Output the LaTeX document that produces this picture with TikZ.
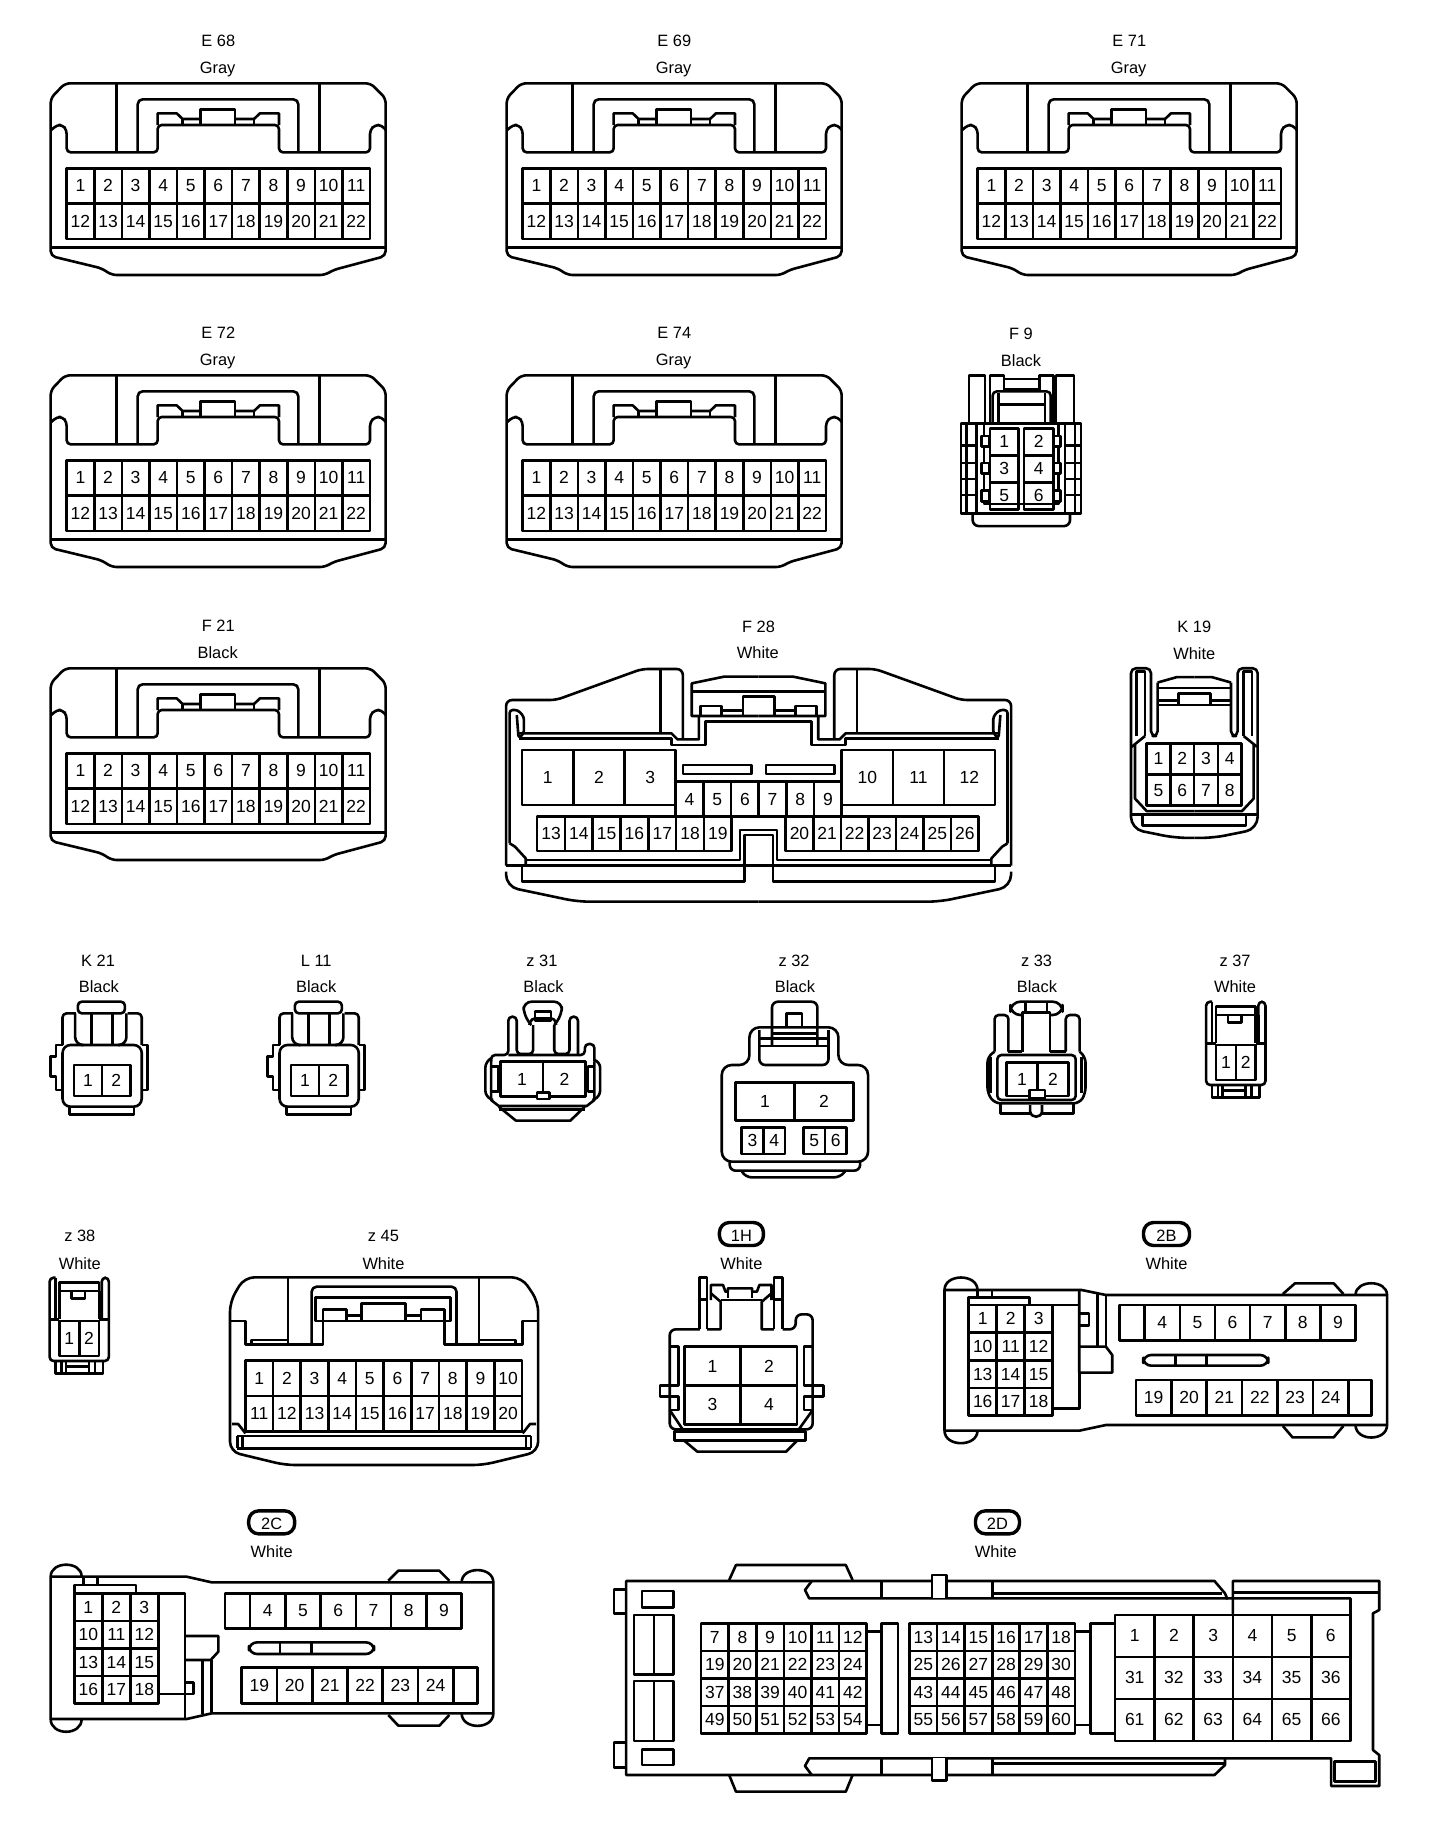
\documentclass[tikz,border=0pt]{standalone}
\usepackage{fontspec}
\setmainfont{Liberation Sans}
\newcommand\pinf{\fontsize{8.75pt}{9pt}\selectfont}
\newcommand\lblf{\fontsize{8.2pt}{9pt}\selectfont}
\newcount\nodenum
\tikzset{
  cl/.style={draw=black,line width=1.3pt,line join=round},
  pinnum/.style={inner sep=0pt,text height=.716em,text depth=0pt,anchor=center,yshift=0.6pt},
  lbl/.style={inner sep=0pt,text height=.716em,text depth=0pt,anchor=center,font=\lblf,yshift=0.5pt},
  pillst/.style={draw=black,line width=1.7pt,rounded corners=5pt,inner sep=0pt,font=\lblf,minimum height=11.5pt,text height=.716em,text depth=0pt,yshift=0.5pt},
  zm/.style n args={4}{shift={(#1,#2)},xscale=#3,yscale=#4},
  flipx/.style={cm={-1,0,0,1,(#1,0)}}
}
\newcommand\lab[3]{\global\advance\nodenum by 1 \node[lbl] (t\the\nodenum) at (#1,#2) {#3};}
\newcommand\pill[4]{\global\advance\nodenum by 1 \node[pillst,minimum width=#3] (t\the\nodenum) at (#1,#2) {#4};}
% [font] x0 y0 x1 y1 ncol nrow list
\newcommand\pins[8][\pinf]{%
  \foreach \v [count=\ii from 0] in {#8} {
    \pgfmathtruncatemacro\gc{mod(\ii,#6)}
    \pgfmathtruncatemacro\gr{round((\ii-\gc)/#6)}
    \pgfmathsetmacro\cellw{(#4-#2)/#6}
    \pgfmathsetmacro\cellh{(#5-#3)/#7}
    \pgfmathsetmacro\ax{#2+\gc*\cellw}
    \pgfmathsetmacro\ay{#3+\gr*\cellh}
    \pgfmathsetmacro\bx{\ax+\cellw}
    \pgfmathsetmacro\by{\ay+\cellh}
    \pgfmathsetmacro\cx{\ax+0.5*\cellw}
    \pgfmathsetmacro\cy{\ay+0.5*\cellh}
    \draw[cl] (\ax,\ay) rectangle (\bx,\by);
    \global\advance\nodenum by 1
    \node[pinnum,font=#1] (t\the\nodenum) at (\cx,\cy) {\v};
  }
}
\newcommand\connE[4]{%
\begin{scope}[zm={30+#1}{20+#2}{0.33333}{0.33333}]
\lab{565}{62}{#3}\lab{563}{143}{#4}
\draw[cl,rounded corners=2.5pt] (105,190)--(62,235)--(62,708)--(215,745)--(245,765)--(885,765)--(910,750)--(1067,708)--(1067,235)--(1022,190)--cycle;
\draw[cl] (62,682)--(1067,682);
\draw[cl,rounded corners=2pt] (64,330)--(80,315)--(98,315)--(110,330)--(110,397)--(383,397)--(383,315)--(747,315)--(747,397)--(1020,397)--(1020,330)--(1035,315)--(1055,315)--(1067,330);
\draw[cl,rounded corners=2pt] (260,397)--(260,190);
\draw[cl] (868,397)--(868,190);
\draw[cl,rounded corners=2.5pt] (323,397)--(323,238)--(805,238)--(805,397);
\draw[cl] (383,315)--(383,280)--(440,280)--(458,297)--(512,297);
\draw[cl] (458,297)--(458,315);
\draw[cl] (512,315)--(512,268)--(615,268)--(615,315);
\draw[cl] (615,297)--(672,297)--(690,280)--(747,280)--(747,315);
\draw[cl] (672,297)--(672,315);
\pins{110}{445}{1020}{657}{11}{2}{1,2,3,4,5,6,7,8,9,10,11,12,13,14,15,16,17,18,19,20,21,22}
\end{scope}}
\newcommand\fhalf{%
\draw[cl,rounded corners=3pt] (45,737)--(45,240)--(185,240)--(425,147)--(540,147)--(540,355);
\draw[cl] (477,147)--(477,340);
\draw[cl] (80,340)--(508,340)--(525,358)--(585,358)--(585,290);
\draw[cl] (80,355)--(508,355)--(508,375)--(603,375)--(603,305)--(752,305);
\draw[cl,rounded corners=1.5pt] (55,670)--(55,270)--(78,270)--(95,290)--(95,340)--(80,355)--(75,285);
\draw[cl] (55,670)--(70,680)--(100,715)--(100,737);
\draw[cl] (100,720)--(700,720)--(700,630)--(752,630);
\draw[cl] (90,737)--(90,785)--(712,785)--(712,645)--(752,645);
\draw[cl,rounded corners=6pt] (45,755)--(45,800)--(245,845)--(752,845);
\draw[cl] (752,170)--(655,170)--(565,190)--(565,288)--(752,288);
\draw[cl] (565,215)--(752,215);
\draw[cl] (590,288)--(590,258)--(648,258)--(648,288);
\draw[cl] (648,272)--(708,272);
\draw[cl] (708,288)--(708,230)--(752,230);
}
\newcommand\khalf{%
\draw[cl,rounded corners=2.5pt] (543,1280)--(543,975)--(603,975)--(603,1165)--(623,1165)--(623,1015);
\draw[cl] (623,1015)--(680,1000)--(733,1000);
\draw[cl] (560,1165)--(560,985)--(585,985)--(585,1165);
\draw[cl] (623,1030)--(733,1030);
\draw[cl] (623,1065)--(685,1065);
\draw[cl] (623,1078)--(685,1078);
\draw[cl] (685,1078)--(685,1045)--(733,1045);
\draw[cl] (685,1078)--(733,1078);
\draw[cl] (585,1165)--(545,1195);
\draw[cl] (555,1190)--(555,1340)--(590,1375)--(733,1375);
\draw[cl,rounded corners=6pt] (543,1280)--(543,1425)--(675,1450)--(733,1450);
\draw[cl] (545,1385)--(733,1385);
\draw[cl] (578,1385)--(578,1415)--(733,1415);
}
\newcommand\kbody{%
\draw[cl,rounded corners=2pt] (125,155) rectangle (248,190);
\draw[cl] (160,190)--(160,285)--(105,285);
\draw[cl] (215,190)--(215,285)--(270,285);
\draw[cl,rounded corners=2pt] (120,190)--(85,190)--(85,285);
\draw[cl,rounded corners=4pt] (118,190)--(118,285)--(135,285);
\draw[cl,rounded corners=2pt] (255,190)--(292,190)--(292,285);
\draw[cl,rounded corners=4pt] (252,190)--(252,285)--(235,285);
\draw[cl,rounded corners=4pt] (85,285) rectangle (292,470);
\draw[cl] (85,285)--(68,285)--(68,320)--(53,320)--(53,380)--(68,380)--(68,420)--(85,420);
\draw[cl] (292,285)--(307,285)--(307,420)--(292,420);
\draw[cl] (103,470)--(103,493)--(272,493)--(272,470);
\pins{115}{345}{262}{438}{2}{1}{1,2}
}
\newcommand\zslim{%
\draw[cl,rounded corners=2pt] (1295,155)--(1280,155)--(1280,405)--(1430,405)--(1430,155)--(1412,155)--(1412,280);
\draw[cl] (1295,155)--(1295,280);
\draw[cl] (1282,280)--(1305,280);
\draw[cl] (1405,280)--(1430,280);
\draw[cl] (1305,280)--(1305,170)--(1405,170)--(1405,280);
\draw[cl] (1305,195)--(1405,195);
\draw[cl] (1335,198)--(1335,217)--(1370,217)--(1370,198);
\draw[cl,line width=2pt] (1410,195)--(1410,280);
\pins{1305}{285}{1405}{390}{2}{1}{1,2}
\draw[cl] (1295,405)--(1295,442)--(1415,442)--(1415,405);
\draw[cl] (1310,405)--(1310,442);
\draw[cl] (1322,405)--(1322,442);
\draw[cl] (1380,405)--(1380,442);
\draw[cl] (1395,405)--(1395,442);
\draw[cl] (1322,422)--(1380,422);
}
\begin{document}
\begin{tikzpicture}[x=0.5pt,y=-0.5pt]
\useasboundingbox (0,0) rectangle (1456,1826);
\fill[white] (0,0) rectangle (1456,1826);
\connE{0}{0}{E 68}{Gray}
\connE{456}{0}{E 69}{Gray}
\connE{911}{0}{E 71}{Gray}
\connE{0}{292}{E 72}{Gray}
\connE{456}{292}{E 74}{Gray}
\connE{0}{585}{F 21}{Black}
% F9 and K19
\begin{scope}[zm={950}{320}{0.33333}{0.35714}]
\lab{213}{37}{F 9}\lab{213}{113}{Black}
\draw[cl] (57,290)--(57,155)--(105,155)--(105,290);
\draw[cl] (120,290)--(120,155)--(162,155)--(162,195);
\draw[cl] (162,165)--(268,165);
\draw[cl] (162,193)--(268,193);
\draw[cl] (268,195)--(268,155)--(310,155)--(310,290);
\draw[cl] (318,290)--(318,155)--(372,155)--(372,290);
\draw[cl,rounded corners=2pt] (128,290)--(128,200)--(302,200)--(302,290);
\draw[cl] (145,205)--(145,290);
\draw[cl] (285,205)--(285,290);
\draw[cl] (145,237)--(285,237);
\draw[cl] (33,290) rectangle (393,542);
\draw[cl] (50,290)--(50,542);
\draw[cl] (80,290)--(80,542);
\draw[cl] (102,290)--(102,515)--(325,515)--(325,290);
\draw[cl] (345,290)--(345,542);
\draw[cl] (375,290)--(375,542);
\foreach \yy in {352,400,445,490} {\draw[cl] (33,\yy)--(80,\yy); \draw[cl] (345,\yy)--(393,\yy);}
\foreach \yy in {325,400,478} {
  \draw[cl,fill=white] (95,\yy) rectangle (118,\yy+30);
  \draw[cl,fill=white] (312,\yy) rectangle (332,\yy+30);
}
\pins{120}{303}{205}{530}{1}{3}{1,3,5}
\pins{222}{303}{310}{530}{1}{3}{2,4,6}
\draw[cl,rounded corners=3pt] (68,540)--(68,577)--(360,577)--(360,540);
% K19
\lab{733}{857}{K 19}\lab{733}{933}{White}
\khalf
\begin{scope}[flipx=1466]\khalf\end{scope}
\pins{590}{1185}{875}{1360}{4}{2}{1,2,3,4,5,6,7,8}
\end{scope}
% F28
\begin{scope}[zm={490}{620}{0.35714}{0.33333}]
\lab{752}{18}{F 28}\lab{750}{98}{White}
\fhalf
\begin{scope}[flipx=1504]\fhalf\end{scope}
\draw[cl] (45,737)--(1458,737);
\pins{90}{390}{520}{555}{3}{1}{1,2,3}
\pins{985}{390}{1414}{555}{3}{1}{10,11,12}
\draw[cl] (520,390)--(520,590);
\draw[cl] (985,390)--(985,590);
\pins{520}{485}{985}{590}{6}{1}{4,5,6,7,8,9}
\pins{132}{590}{677}{693}{7}{1}{13,14,15,16,17,18,19}
\pins{828}{590}{1368}{693}{7}{1}{20,21,22,23,24,25,26}
\draw[cl] (540,435) rectangle (732,462);
\draw[cl] (773,435) rectangle (965,462);
\end{scope}
% K21, L11, z31
\begin{scope}[zm={30}{950}{0.38265}{0.33333}]
\lab{178}{30}{K 21}\lab{180}{110}{Black}
\kbody
\lab{748}{30}{L 11}\lab{748}{110}{Black}
\lab{1338}{30}{z 31}\lab{1342}{110}{Black}
\draw[cl,rounded corners=2pt] (1205,335)--(1205,315)--(1250,315)--(1250,200)--(1272,200)--(1272,312)--(1315,312)--(1315,225);
\draw[cl,rounded corners=2pt] (1370,225)--(1370,312)--(1410,312)--(1410,200)--(1432,200)--(1432,315);
\draw[cl,rounded corners=2pt] (1250,315)--(1450,315)--(1450,282)--(1475,282)--(1475,335);
\draw[cl,rounded corners=4pt] (1310,225)--(1290,195)--(1290,155)--(1390,155)--(1390,195)--(1370,225);
\draw[cl,rounded corners=2pt] (1305,225)--(1310,205)--(1372,205)--(1375,225);
\draw[cl] (1320,185) rectangle (1362,212);
\draw[cl,rounded corners=3pt] (1205,325)--(1190,335)--(1190,440)--(1210,450);
\draw[cl,rounded corners=3pt] (1475,330)--(1490,335)--(1490,440)--(1470,450);
\draw[cl] (1205,325)--(1205,450)--(1225,468)--(1455,468)--(1475,450)--(1475,335);
\draw[cl] (1208,350)--(1225,350)--(1225,425)--(1208,425);
\draw[cl] (1475,350)--(1458,350)--(1458,425)--(1475,425);
\pins{1230}{335}{1452}{440}{2}{1}{1,2}
\draw[cl,fill=white] (1325,427) rectangle (1358,447);
\draw[cl] (1225,478)--(1450,478);
\draw[cl] (1225,470)--(1270,512)--(1412,512)--(1450,470);
\end{scope}
\begin{scope}[zm={247}{950}{0.38265}{0.33333}]\kbody\end{scope}
% z32 z33 z37
\begin{scope}[zm={700}{950}{0.39541}{0.33333}]
\lab{238}{30}{z 32}\lab{240}{110}{Black}
\draw[cl,rounded corners=5pt] (125,345)--(125,232)--(350,232)--(350,345)--(425,345)--(425,635)--(55,635)--(55,345)--cycle;
\draw[cl,rounded corners=3pt] (182,290)--(182,155)--(297,155)--(297,290);
\draw[cl] (218,230)--(218,190)--(258,190)--(258,230);
\draw[cl] (182,250)--(297,250);
\draw[cl] (150,265)--(325,265);
\draw[cl] (150,288)--(325,288);
\draw[cl,rounded corners=3pt] (150,240)--(150,345)--(325,345)--(325,240);
\pins{90}{398}{388}{512}{2}{1}{1,2}
\pins{105}{533}{215}{612}{2}{1}{3,4}
\pins{262}{533}{370}{612}{2}{1}{5,6}
\draw[cl,rounded corners=3pt] (75,635)--(75,662)--(405,662)--(405,635);
\draw[cl,rounded corners=3pt] (105,662)--(115,682)--(355,682)--(368,662);
\lab{851}{30}{z 33}\lab{852}{110}{Black}
\draw[cl,rounded corners=5pt] (785,155) rectangle (917,195);
\draw[cl] (823,155)--(823,185);
\draw[cl] (878,155)--(878,185);
\draw[cl,rounded corners=2pt] (780,305)--(780,195)--(745,195)--(745,305);
\draw[cl,rounded corners=2pt] (925,305)--(925,195)--(960,195)--(960,305);
\draw[cl,fill=white] (815,305)--(815,187)--(885,187)--(885,305);
\draw[cl] (780,305)--(815,305);
\draw[cl] (885,305)--(925,305);
\draw[cl,rounded corners=3pt] (745,305)--(727,320)--(727,430)--(745,460)--(960,460)--(975,430)--(975,320)--(960,305);
\draw[cl] (735,320)--(735,430);
\draw[cl] (965,320)--(965,430);
\draw[cl,rounded corners=2pt] (752,315) rectangle (950,450);
\pins{775}{338}{932}{438}{2}{1}{1,2}
\draw[cl,fill=white] (833,420) rectangle (872,445);
\draw[cl] (760,460)--(760,490)--(835,490);
\draw[cl] (865,490)--(945,490)--(945,460);
\draw[cl] (835,465)--(835,485) .. controls (838,505) and (862,505) .. (865,485)--(865,465);
\lab{1353}{30}{z 37}\lab{1353}{110}{White}
\zslim
\end{scope}
% z38
\begin{scope}[zm={-456}{1226}{0.395}{0.33333}]
\zslim
\end{scope}
\begin{scope}[zm={30}{1220}{0.40816}{0.33333}]
\lab{122}{47}{z 38}\lab{122}{130}{White}
% z45
\lab{866}{47}{z 45}\lab{866}{130}{White}
\draw[cl,rounded corners=5pt] (525,172)--(490,245)--(490,695)--(625,735)--(1110,735)--(1245,695)--(1245,245)--(1205,172)--cycle;
\draw[cl] (490,303)--(528,303)--(528,373)--(718,373)--(718,300);
\draw[cl] (1015,300)--(1015,373)--(1207,373)--(1207,303)--(1245,303);
\draw[cl] (632,172)--(632,373);
\draw[cl] (1100,172)--(1100,373);
\draw[cl] (542,373)--(542,360)--(632,360);
\draw[cl] (1100,360)--(1190,360)--(1190,373);
\draw[cl,rounded corners=2.5pt] (690,373)--(690,200)--(1045,200)--(1045,373);
\draw[cl] (700,232)--(1030,232)--(1030,303)--(700,303)--cycle;
\draw[cl] (718,303)--(718,268)--(775,268)--(775,303);
\draw[cl] (775,287)--(812,287);
\draw[cl] (812,303)--(812,250)--(920,250)--(920,303);
\draw[cl] (920,287)--(958,287);
\draw[cl] (958,303)--(958,268)--(1015,268)--(1015,303);
\pins{528}{422}{1205}{635}{10}{2}{1,2,3,4,5,6,7,8,9,10,11,12,13,14,15,16,17,18,19,20}
\draw[cl] (495,612)--(510,612)--(528,640);
\draw[cl] (1240,612)--(1225,612)--(1207,640);
\draw[cl] (508,648)--(1227,648);
\draw[cl] (508,685)--(1227,685);
\draw[cl] (508,648)--(508,685);
\draw[cl] (520,648)--(520,685);
\draw[cl] (1215,648)--(1215,685);
\draw[cl] (1227,648)--(1227,685);
\end{scope}
% 1H 2B
\begin{scope}[zm={660}{1220}{0.48469}{0.33333}]
\pill{168}{45}{22pt}{1H}\lab{168}{130}{White}
\draw[cl] (82,328)--(82,172)--(97,172)--(97,328);
\draw[cl] (235,328)--(235,172)--(253,172)--(253,328);
\draw[cl] (82,238)--(97,238);
\draw[cl] (235,238)--(253,238);
\draw[cl] (105,240)--(105,195)--(130,195)--(135,215)--(140,215)--(140,205)--(190,205)--(190,215)--(200,215)--(205,195)--(230,195)--(230,240);
\draw[cl] (125,240)--(210,240);
\draw[cl] (105,220)--(125,245)--(125,328)--(97,328);
\draw[cl] (230,220)--(210,245)--(210,328)--(235,328);
\draw[cl] (140,215)--(140,235);
\draw[cl] (190,215)--(190,235);
\draw[cl,rounded corners=3pt] (82,328)--(20,328)--(20,628)--(315,628)--(315,283)--(280,283)--(280,328)--(253,328);
\pins{50}{380}{283}{613}{2}{2}{1,2,3,4}
\draw[cl] (20,380)--(38,380)--(38,497)--(0,497)--(0,530)--(38,530)--(38,570)--(20,570);
\draw[cl] (315,380)--(297,380)--(297,497)--(337,497)--(337,530)--(297,530)--(297,570)--(315,570);
\draw[cl] (20,570)--(50,635);
\draw[cl] (315,570)--(283,635);
\draw[cl] (30,635) rectangle (300,662);
\draw[cl] (50,662)--(77,695)--(260,695)--(283,662);
% 2B
\pill{1045}{45}{23pt}{2B}\lab{1045}{130}{White}
\draw[cl] (587,210)--(870,210)--(920,225)--(1500,225)--(1500,615)--(920,615)--(865,632)--(587,632)--cycle;
\draw[cl] (587,210) .. controls (587,160) and (655,160) .. (655,210);
\draw[cl] (587,632) .. controls (587,682) and (655,682) .. (655,632);
\draw[cl] (1435,225) .. controls (1435,178) and (1500,178) .. (1500,225);
\draw[cl] (1435,615) .. controls (1435,665) and (1500,665) .. (1500,615);
\draw[cl] (1285,222)--(1310,190)--(1390,190)--(1410,222);
\draw[cl] (1285,618)--(1305,652)--(1390,652)--(1410,618);
\draw[cl] (655,210)--(655,232);
\draw[cl] (685,210)--(685,232);
\draw[cl] (637,255)--(637,232)--(762,232)--(762,255);
\draw[cl] (637,255)--(865,255);
\draw[cl] (865,210)--(865,458)--(933,458)--(933,405)--(920,380)--(865,380);
\draw[cl] (865,458)--(865,565)--(810,565);
\draw[cl] (810,255)--(810,565);
\draw[cl] (865,280)--(885,280)--(885,317)--(865,317);
\draw[cl] (902,218)--(902,380);
\draw[cl] (920,225)--(920,380);
\pins{637}{255}{810}{587}{3}{4}{1,2,3,10,11,12,13,14,15,16,17,18}
\draw[cl] (948,255) rectangle (1000,362);
\pins{1000}{255}{1435}{362}{6}{1}{4,5,6,7,8,9}
\pins{982}{480}{1420}{587}{6}{1}{19,20,21,22,23,24}
\draw[cl] (1420,480) rectangle (1468,587);
\draw[cl,rounded corners=4pt] (997,405) rectangle (1255,437);
\draw[cl] (1063,405)--(1063,437);
\draw[cl] (1127,405)--(1127,437);
\end{scope}
% 2C
\begin{scope}[zm={30}{1510}{0.33333}{0.33333}]
\pill{725}{40}{23pt}{2C}\lab{725}{123}{White}
\draw[cl] (62,200)--(470,200)--(545,217)--(1390,217)--(1390,610)--(545,610)--(470,627)--(62,627)--cycle;
\draw[cl] (62,200) .. controls (62,152) and (155,152) .. (155,200);
\draw[cl] (62,627) .. controls (62,678) and (155,678) .. (155,627);
\draw[cl] (1295,217) .. controls (1295,168) and (1390,168) .. (1390,217);
\draw[cl] (1295,610) .. controls (1295,660) and (1390,660) .. (1390,610);
\draw[cl] (1075,212)--(1105,182)--(1228,182)--(1258,212);
\draw[cl] (1075,615)--(1105,647)--(1228,647)--(1258,615);
\draw[cl] (160,200)--(160,225);
\draw[cl] (203,200)--(203,225);
\draw[cl] (133,250)--(133,225)--(318,225)--(318,250);
\draw[cl] (133,250)--(465,250)--(465,627);
\draw[cl] (385,552)--(490,552)--(490,518)--(465,518);
\draw[cl] (465,378)--(565,378)--(565,425)--(542,450)--(465,450);
\draw[cl] (518,450)--(518,613);
\draw[cl] (545,450)--(545,610);
\pins{133}{250}{385}{580}{3}{4}{1,2,3,10,11,12,13,14,15,16,17,18}
\draw[cl] (585,250) rectangle (660,355);
\pins{660}{250}{1295}{355}{6}{1}{4,5,6,7,8,9}
\pins{635}{472}{1270}{580}{6}{1}{19,20,21,22,23,24}
\draw[cl] (1270,472) rectangle (1343,580);
\draw[cl,rounded corners=4pt] (657,397) rectangle (1032,432);
\draw[cl] (750,397)--(750,432);
\draw[cl] (845,397)--(845,432);
\end{scope}
% 2D
\begin{scope}[zm={600}{1510}{0.52296}{0.33333}]
\pill{760}{40}{22pt}{2D}\lab{757}{123}{White}
\draw[cl] (1200,268)--(1195,250)--(1175,213)--(50,213)--(50,795)--(1175,795)--(1195,765)--(1195,745);
\draw[cl] (1210,315)--(1210,213)--(1490,213)--(1490,300)--(1478,310)--(1478,720)--(1490,735)--(1490,828)--(1398,828)--(1398,745)--(400,745)--(392,768)--(405,795);
\draw[cl] (405,213)--(392,240)--(400,265)--(1435,265)--(1435,315);
\draw[cl] (1210,248)--(1490,248);
\draw[cl] (750,250)--(1190,250);
\draw[cl] (750,760)--(1195,760);
\draw[cl] (538,213)--(538,265);
\draw[cl] (750,213)--(750,265);
\draw[cl] (538,745)--(538,795);
\draw[cl] (750,745)--(750,795);
\draw[cl,fill=white] (635,265)--(635,195)--(663,195)--(663,265);
\draw[cl,fill=white] (635,745)--(635,812)--(663,812)--(663,745);
\draw[cl] (50,238)--(27,238)--(27,310)--(50,310);
\draw[cl] (50,698)--(27,698)--(27,772)--(50,772);
\draw[cl] (80,243) rectangle (140,293);
\draw[cl] (80,718) rectangle (140,765);
\draw[cl] (65,315) rectangle (140,493);
\draw[cl] (103,315)--(103,493);
\draw[cl] (65,513) rectangle (140,693);
\draw[cl] (103,513)--(103,693);
\draw[cl] (247,210)--(260,165)--(470,165)--(483,210);
\draw[cl] (247,795)--(260,845)--(470,845)--(483,795);
\pins{193}{340}{510}{670}{6}{4}{7,8,9,10,11,12,19,20,21,22,23,24,37,38,39,40,41,42,49,50,51,52,53,54}
\pins{592}{340}{908}{670}{6}{4}{13,14,15,16,17,18,25,26,27,28,29,30,43,44,45,46,47,48,55,56,57,58,59,60}
\pins{985}{315}{1435}{693}{6}{3}{1,2,3,4,5,6,31,32,33,34,35,36,61,62,63,64,65,66}
\draw[cl] (510,365)--(538,365);
\draw[cl] (510,645)--(538,645);
\draw[cl] (538,340) rectangle (570,670);
\draw[cl] (908,365)--(938,365);
\draw[cl] (908,645)--(938,645);
\draw[cl] (985,340)--(938,340)--(938,670)--(985,670);
\draw[cl] (1405,755) rectangle (1483,815);
\end{scope}
\end{tikzpicture}
\end{document}
